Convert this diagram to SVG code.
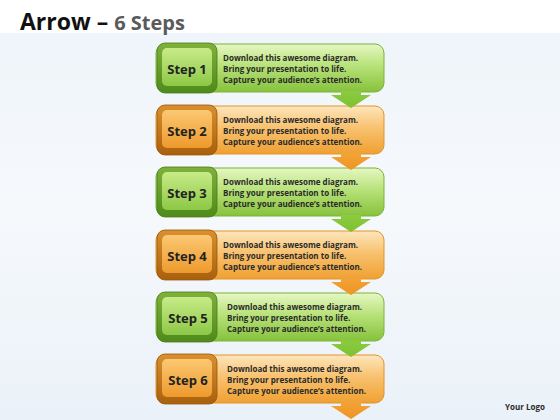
<svg xmlns="http://www.w3.org/2000/svg" width="560" height="420" viewBox="0 0 560 420">
<defs>
<linearGradient id="bg" x1="0" y1="0" x2="0" y2="1">
<stop offset="0" stop-color="#eef4fa"/><stop offset="0.5" stop-color="#f6f9fc"/><stop offset="1" stop-color="#eaf1f8"/>
</linearGradient>
<linearGradient id="gBar" x1="0" y1="0" x2="0" y2="1">
<stop offset="0" stop-color="#e6f7c4"/><stop offset="0.45" stop-color="#b8e27a"/><stop offset="1" stop-color="#86c23c"/>
</linearGradient>
<linearGradient id="oBar" x1="0" y1="0" x2="0" y2="1">
<stop offset="0" stop-color="#fde6bd"/><stop offset="0.45" stop-color="#f8c270"/><stop offset="1" stop-color="#f0a032"/>
</linearGradient>
<linearGradient id="gBox" x1="0" y1="0" x2="0" y2="1">
<stop offset="0" stop-color="#7fb13a"/><stop offset="1" stop-color="#4f8a1c"/>
</linearGradient>
<linearGradient id="oBox" x1="0" y1="0" x2="0" y2="1">
<stop offset="0" stop-color="#d9902e"/><stop offset="1" stop-color="#a9600e"/>
</linearGradient>
<linearGradient id="gIn" x1="0" y1="0" x2="0" y2="1">
<stop offset="0" stop-color="#c7eb88"/><stop offset="1" stop-color="#8dc846"/>
</linearGradient>
<linearGradient id="oIn" x1="0" y1="0" x2="0" y2="1">
<stop offset="0" stop-color="#fbc873"/><stop offset="1" stop-color="#ee9a2c"/>
</linearGradient>
<linearGradient id="gArr" x1="0" y1="0" x2="0" y2="1">
<stop offset="0" stop-color="#8ccb40"/><stop offset="1" stop-color="#7cc232"/>
</linearGradient>
<linearGradient id="oArr" x1="0" y1="0" x2="0" y2="1">
<stop offset="0" stop-color="#f2a436"/><stop offset="1" stop-color="#ee9424"/>
</linearGradient>
</defs>
<style>
.title{font-family:"Open Sans","Liberation Sans",sans-serif;font-weight:bold;}
.step{font-family:"Open Sans","Liberation Sans",sans-serif;font-weight:bold;font-size:13px;fill:#222;text-anchor:middle;}
.desc{font-family:"Open Sans","Liberation Sans",sans-serif;font-weight:bold;font-size:8px;fill:#2a2a2a;}
.gbar{fill:url(#gBar);stroke:#7ab33a;stroke-width:1;}
.obar{fill:url(#oBar);stroke:#e0952a;stroke-width:1;}
.gbox{fill:url(#gBox);stroke:#4a7c1a;stroke-width:0.8;}
.obox{fill:url(#oBox);stroke:#9a560c;stroke-width:0.8;}
.gin{fill:url(#gIn);}
.oin{fill:url(#oIn);}
.garr{fill:url(#gArr);}
.oarr{fill:url(#oArr);}
</style>
<rect x="0" y="0" width="560" height="420" fill="url(#bg)"/>
<rect x="0" y="0" width="560" height="33" fill="#ffffff"/>
<text class="title" x="20" y="30" font-size="23" fill="#111">Arrow – <tspan font-size="20" fill="#5a5a5a">6 Steps</tspan></text>

<g id="step1" transform="translate(0,44)">
<rect class="gbar" x="156" y="0" width="228" height="48" rx="9"/>
<rect class="gbox" x="157" y="-1" width="60" height="50" rx="8"/>
<rect class="gin" x="162" y="4" width="50" height="38" rx="5"/>
<text class="step" x="187" y="30">Step 1</text>
<text class="desc" x="223" y="17">Download this awesome diagram.</text>
<text class="desc" x="223" y="28">Bring your presentation to life.</text>
<text class="desc" x="223" y="39">Capture your audience’s attention.</text>
</g>
<g id="step2" transform="translate(0,106)">
<rect class="obar" x="156" y="0" width="228" height="48" rx="9"/>
<rect class="obox" x="157" y="-1" width="60" height="50" rx="8"/>
<rect class="oin" x="162" y="4" width="50" height="38" rx="5"/>
<text class="step" x="187" y="30">Step 2</text>
<text class="desc" x="223" y="17">Download this awesome diagram.</text>
<text class="desc" x="223" y="28">Bring your presentation to life.</text>
<text class="desc" x="223" y="39">Capture your audience’s attention.</text>
</g>
<g id="step3" transform="translate(0,168)">
<rect class="gbar" x="156" y="0" width="228" height="48" rx="9"/>
<rect class="gbox" x="157" y="-1" width="60" height="50" rx="8"/>
<rect class="gin" x="162" y="4" width="50" height="38" rx="5"/>
<text class="step" x="187" y="30">Step 3</text>
<text class="desc" x="223" y="17">Download this awesome diagram.</text>
<text class="desc" x="223" y="28">Bring your presentation to life.</text>
<text class="desc" x="223" y="39">Capture your audience’s attention.</text>
</g>
<g id="step4" transform="translate(0,231)">
<rect class="obar" x="156" y="0" width="228" height="48" rx="9"/>
<rect class="obox" x="157" y="-1" width="60" height="50" rx="8"/>
<rect class="oin" x="162" y="4" width="50" height="38" rx="5"/>
<text class="step" x="187" y="30">Step 4</text>
<text class="desc" x="223" y="17">Download this awesome diagram.</text>
<text class="desc" x="223" y="28">Bring your presentation to life.</text>
<text class="desc" x="223" y="39">Capture your audience’s attention.</text>
</g>
<g id="step5" transform="translate(0,293)">
<rect class="gbar" x="156" y="0" width="228" height="48" rx="9"/>
<rect class="gbox" x="157" y="-1" width="60" height="50" rx="8"/>
<rect class="gin" x="162" y="4" width="50" height="38" rx="5"/>
<text class="step" x="188" y="30">Step 5</text>
<text class="desc" x="227" y="17">Download this awesome diagram.</text>
<text class="desc" x="227" y="28">Bring your presentation to life.</text>
<text class="desc" x="227" y="39">Capture your audience’s attention.</text>
</g>
<g id="step6" transform="translate(0,355)">
<rect class="obar" x="156" y="0" width="228" height="48" rx="9"/>
<rect class="obox" x="157" y="-1" width="60" height="50" rx="8"/>
<rect class="oin" x="162" y="4" width="50" height="38" rx="5"/>
<text class="step" x="188" y="30">Step 6</text>
<text class="desc" x="227" y="17">Download this awesome diagram.</text>
<text class="desc" x="227" y="28">Bring your presentation to life.</text>
<text class="desc" x="227" y="39">Capture your audience’s attention.</text>
</g>

<g id="connectors">
<path class="garr" d="M341,91 L361,91 L361,95 L371,95 L351,108 L331,95 L341,95 Z"/>
<path class="oarr" d="M341,153 L361,153 L361,157 L371,157 L351,170 L331,157 L341,157 Z"/>
<path class="garr" d="M341,215 L361,215 L361,219 L371,219 L351,232 L331,219 L341,219 Z"/>
<path class="oarr" d="M341,278 L361,278 L361,282 L371,282 L351,295 L331,282 L341,282 Z"/>
<path class="garr" d="M341,340 L361,340 L361,344 L371,344 L351,357 L331,344 L341,344 Z"/>
<path class="oarr" d="M341,402 L361,402 L361,406 L371,406 L351,419 L331,406 L341,406 Z"/>
</g>
<text id="logo" class="desc" x="505" y="410" font-size="9">Your Logo</text>
</svg>
